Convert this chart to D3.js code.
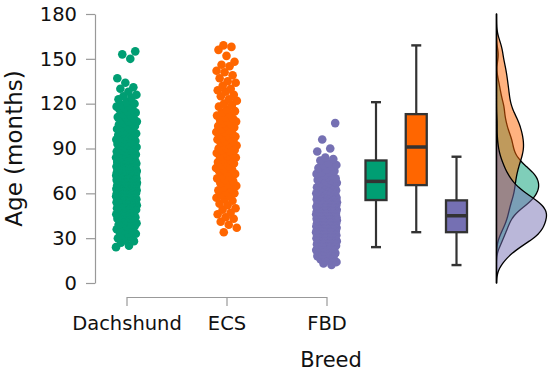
<!DOCTYPE html>
<html><head><meta charset="utf-8">
<script src="https://cdn.jsdelivr.net/npm/d3@7"></script>
<style>
html,body{margin:0;padding:0;background:#fff;}
svg{display:block;font-family:"DejaVu Sans",sans-serif;}
</style></head><body>
<svg id="chart" width="550" height="373"></svg>
<script>
const breeds = ["Dachshund", "ECS", "FBD"];
const colors = ["#009E73", "#FF6600", "#7570B3"];
const yTicks = [0, 30, 60, 90, 120, 150, 180];

const ageDachshund = [
24,25,
27,28,29,30,31,32,
33,33,34,35,35,36,37,37,
38,38,39,39,40,40,41,41,42,42,
43,43,44,44,45,45,45,46,46,46,47,47,47,
48,48,48,49,49,49,50,50,50,50,51,51,51,51,52,52,52,52,
53,53,53,53,53,53,54,54,54,54,54,54,55,55,55,55,55,56,56,56,56,56,56,57,57,57,57,57,
58,58,58,58,58,58,59,59,59,59,59,59,60,60,60,60,60,60,60,61,61,61,61,61,61,62,62,62,62,62,62,62,
63,63,63,63,63,63,63,64,64,64,64,64,64,65,65,65,65,65,65,65,66,66,66,66,66,66,67,67,67,67,67,67,67,
68,68,68,68,68,68,68,69,69,69,69,69,69,70,70,70,70,70,70,70,71,71,71,71,71,71,72,72,72,72,72,72,
73,73,73,73,73,73,74,74,74,74,74,74,75,75,75,75,75,75,76,76,76,76,76,77,77,77,77,77,
78,78,78,78,79,79,79,79,80,80,80,80,81,81,81,81,82,82,82,82,
83,83,83,84,84,84,85,85,85,86,86,86,87,87,
88,88,88,89,89,89,90,90,90,91,91,92,92,
93,93,93,94,94,95,95,95,96,96,96,97,97,
98,98,99,99,100,100,101,101,102,102,
103,103,104,105,105,106,107,107,
108,108,109,110,111,111,112,
113,114,115,116,116,117,
118,119,119,120,121,
123,124,125,126,
128,130,131,
134,137,
150,153,155
];

const ageECS = [
34,37,39,
41,43,44,46,47,49,
50,52,53,55,56,57,58,59,
60,61,62,63,64,65,66,67,68,69,
70,71,72,73,74,75,76,76,77,78,79,
80,81,81,82,83,84,85,85,86,87,87,88,89,89,
90,90,91,92,92,93,94,95,95,96,97,97,98,99,99,
100,101,101,102,103,104,105,105,106,107,108,108,109,
110,111,112,113,114,115,116,118,119,
120,122,123,125,126,128,129,
130,132,134,135,137,139,
141,142,145,146,148,
152,156,158,159
];

const ageFBD = [
12,13,14,
15,16,17,17,18,19,19,
20,20,21,21,21,22,22,23,23,23,24,24,24,
25,25,25,25,26,26,26,26,27,27,27,27,27,28,28,28,28,29,29,29,29,29,
30,30,30,30,30,30,31,31,31,31,31,31,32,32,32,32,32,32,32,33,33,33,33,33,33,34,34,34,34,34,34,34,
35,35,35,35,35,35,35,36,36,36,36,36,36,36,37,37,37,37,37,37,37,38,38,38,38,38,38,38,39,39,39,39,39,39,
40,40,40,40,40,40,40,41,41,41,41,41,41,41,42,42,42,42,42,42,42,42,43,43,43,43,43,43,43,44,44,44,44,44,44,44,
45,45,45,45,45,45,45,45,46,46,46,46,46,46,46,47,47,47,47,47,47,47,47,48,48,48,48,48,48,48,48,49,49,49,49,49,49,49,
50,50,50,50,50,50,50,50,51,51,51,51,51,51,51,52,52,52,52,52,52,52,53,53,53,53,53,53,53,54,54,54,54,54,54,54,
55,55,55,55,55,55,56,56,56,56,56,57,57,57,57,57,58,58,58,58,58,59,59,59,59,59,
60,60,60,60,61,61,61,61,62,62,62,63,63,63,64,64,64,
65,65,65,66,66,67,67,67,68,68,69,69,
70,70,71,71,72,72,73,74,74,
75,76,77,78,79,79,
80,82,83,84,
88,90,96,107
];

// Box-plot statistics
const boxMin    = [24, 34, 12];
const boxQ1     = [55.5, 65.5, 34];
const boxMedian = [68, 91, 45];
const boxQ3     = [82, 113, 55.3];
const boxMax    = [121, 159, 84.5];

const ages = [ageDachshund, ageECS, ageFBD];
const bandwidths = [4, 6, 5];

const svg = d3.select("#chart");
const y = d3.scaleLinear().domain([0, 180]).range([283, 14]);
const xPts = d3.scalePoint().domain(breeds).range([126.5, 326.5]);
const xBox = d3.scalePoint().domain(breeds).range([376, 456.5]);
const densBase = 496.5;

// Y axis
const gy = svg.append("g").attr("transform", "translate(95,0)")
  .call(d3.axisLeft(y).tickValues(yTicks).tickSize(9).tickSizeOuter(0).tickPadding(9));
gy.attr("font-family", "DejaVu Sans").attr("font-size", 19.5);
gy.select(".domain").attr("stroke", "#999").attr("stroke-width", 1.2);
gy.selectAll(".tick line").attr("stroke", "#999").attr("stroke-width", 1.2);
gy.selectAll(".tick text").attr("fill", "#111");

// X axis
const gx = svg.append("g").attr("transform", "translate(0,297)")
  .call(d3.axisBottom(xPts).tickSize(9).tickSizeOuter(0).tickPadding(10));
gx.attr("font-family", "DejaVu Sans").attr("font-size", 19.5);
gx.select(".domain").attr("stroke", "#999").attr("stroke-width", 1.2);
gx.selectAll(".tick line").attr("stroke", "#999").attr("stroke-width", 1.2);
gx.selectAll(".tick text").attr("fill", "#111");

// Axis titles
svg.append("text").attr("transform", "translate(22,148.5) rotate(-90)")
  .attr("text-anchor", "middle").attr("font-size", 23).attr("fill", "#111").text("Age (months)");
svg.append("text").attr("x", 331).attr("y", 367)
  .attr("text-anchor", "middle").attr("font-size", 21).attr("fill", "#111").text("Breed");

// Jittered points
const jitterW = 21;
breeds.forEach((b, i) => {
  svg.append("g").selectAll("circle").data(ages[i]).join("circle")
    .attr("cx", (d, k) => xPts(b) + (((k * 0.6180339887 + 0.37 * i) % 1) - 0.5) * jitterW)
    .attr("cy", d => y(d))
    .attr("r", 4.3)
    .attr("fill", colors[i]);
});

// Box plots
const boxW = 21, capW = 10, dark = "#333";
breeds.forEach((b, i) => {
  const cx = xBox(b);
  const g = svg.append("g");
  g.append("line").attr("x1", cx).attr("x2", cx).attr("y1", y(boxMax[i])).attr("y2", y(boxQ3[i]))
    .attr("stroke", dark).attr("stroke-width", 2.2);
  g.append("line").attr("x1", cx).attr("x2", cx).attr("y1", y(boxQ1[i])).attr("y2", y(boxMin[i]))
    .attr("stroke", dark).attr("stroke-width", 2.2);
  [boxMax[i], boxMin[i]].forEach(v => {
    g.append("line").attr("x1", cx - capW / 2).attr("x2", cx + capW / 2).attr("y1", y(v)).attr("y2", y(v))
      .attr("stroke", dark).attr("stroke-width", 2.4);
  });
  g.append("rect").attr("x", cx - boxW / 2).attr("width", boxW)
    .attr("y", y(boxQ3[i])).attr("height", y(boxQ1[i]) - y(boxQ3[i]))
    .attr("fill", colors[i]).attr("stroke", dark).attr("stroke-width", 2.3);
  g.append("line").attr("x1", cx - boxW / 2).attr("x2", cx + boxW / 2)
    .attr("y1", y(boxMedian[i])).attr("y2", y(boxMedian[i]))
    .attr("stroke", dark).attr("stroke-width", 3.5);
});

// Half-violin densities (Gaussian KDE of the ages)
const grid = d3.range(0, 180.01, 1);
const gauss = u => Math.exp(-0.5 * u * u) / Math.sqrt(2 * Math.PI);
const dens = ages.map((vals, i) => grid.map(a => [a, d3.mean(vals, v => gauss((a - v) / bandwidths[i])) / bandwidths[i]]));
const maxD = d3.max(dens, arr => d3.max(arr, d => d[1]));
const w = d3.scaleLinear().domain([0, maxD]).range([densBase, densBase + 50]);
const area = d3.area().y(d => y(d[0])).x0(densBase).x1(d => w(d[1])).curve(d3.curveBasis);
dens.forEach((arr, i) => {
  svg.append("path").datum(arr).attr("d", area)
    .attr("fill", colors[i]).attr("fill-opacity", 0.5)
    .attr("stroke", "#000").attr("stroke-width", 1.3);
});
</script>
</body></html>
